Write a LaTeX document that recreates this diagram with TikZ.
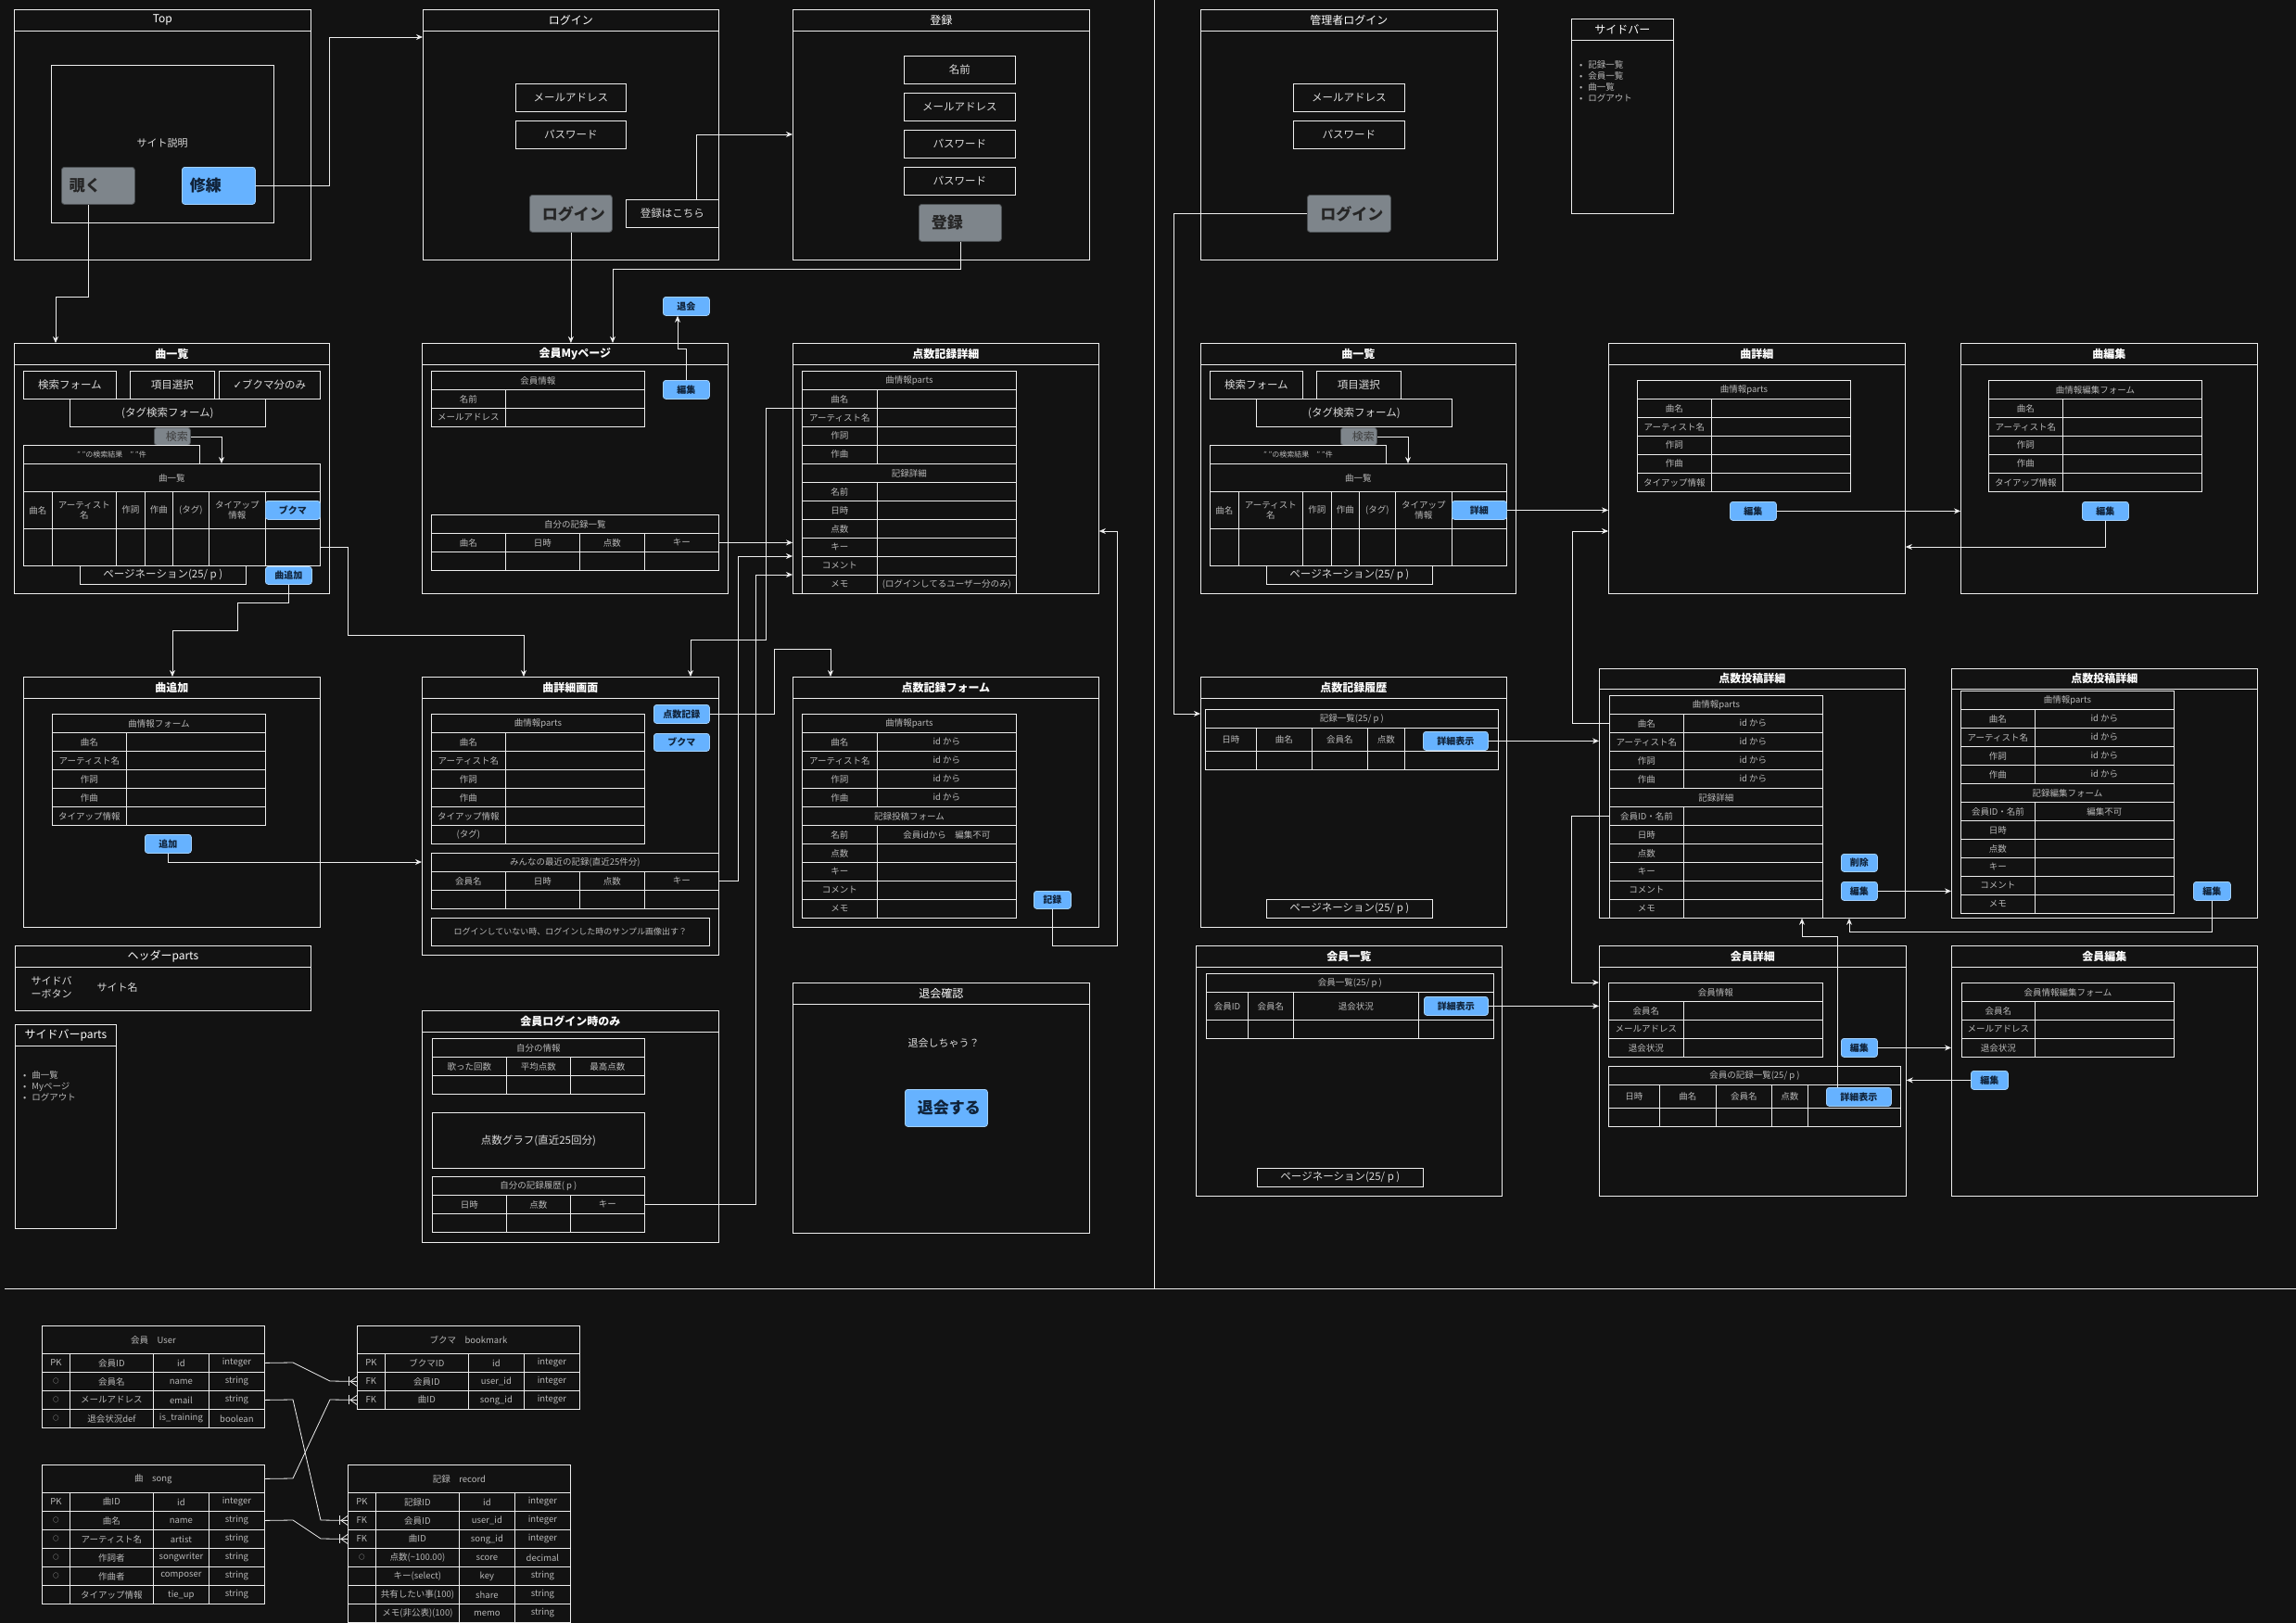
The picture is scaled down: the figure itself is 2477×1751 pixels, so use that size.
\documentclass[tikz,border=0pt]{standalone}
\usepackage{fontspec}
\setmainfont{Noto Sans CJK JP}
\newfontfamily\checkfont{DejaVu Sans}
\usetikzlibrary{arrows.meta}

\definecolor{bg}{HTML}{121212}
\definecolor{ln}{HTML}{EEEEEE}
\definecolor{tx}{HTML}{B8B8B8}
\definecolor{fx}{HTML}{DADADA}
\definecolor{btnblue}{HTML}{66B2FF}
\definecolor{btngray}{HTML}{7E858B}
\definecolor{btntext}{HTML}{10233A}

% one cell, field or button, placed by its north west corner
\newcommand\cel[7][cell]{\node[#1, minimum width=(#5)*1pt, minimum height=(#6)*1pt] (#2) at (#3,#4) {#7};}

% a page frame with its title bar
\newcommand\frm[8][ttl]{%
  \node[frame, minimum width=(#5)*1pt, minimum height=(#6)*1pt] (#2) at (#3,#4) {};
  \draw[line] ([yshift=-#7pt]#2.north west) -- ([yshift=-#7pt]#2.north east);
  \node[#1] (#2-t) at ([yshift=-0.5*#7pt]#2.north) {#8};}

% two column table, rows 20 high; kind 1 = title row
\newcommand\formtable[6]{%
  \foreach [count=\i from 0] \kind/\lab/\val in {#6}{%
    \ifnum\kind=1\relax
      \cel{#1-\i}{#2}{#3+20*\i}{#4+#5}{20}{\lab}
    \else
      \cel{#1-\i-a}{#2}{#3+20*\i}{#4}{20}{\lab}
      \cel{#1-\i-b}{#2+#4}{#3+20*\i}{#5}{20}{\val}
    \fi}}

% title row, header row and one empty row
\newcommand\gridtable[9]{%
  \cel{#1-t}{#2}{#3}{#4}{#5}{#8}
  \foreach [count=\i] \cx/\cw/\lab in {#9}{%
    \cel{#1-h\i}{\cx}{#3+#5}{\cw}{#6}{\lab}
    \cel{#1-d\i}{\cx}{#3+#5+#6}{\cw}{#7}{}}}

% entity of the ER diagram
\newcommand\ertable[5]{%
  \cel{#1-t}{#2}{#3}{240}{30}{#4}
  \foreach [count=\i] \pa/\pb/\pc/\pd in {#5}{%
    \cel{#1-\i-a}{#2}{#3+10+20*\i}{30}{20}{\pa}
    \cel{#1-\i-b}{#2+30}{#3+10+20*\i}{90}{20}{\pb}
    \cel{#1-\i-c}{#2+120}{#3+10+20*\i}{60}{20}{\pc}
    \cel{#1-\i-d}{#2+180}{#3+10+20*\i}{60}{20}{\pd}}}
\newcommand\ercirc{{\fontsize{6.5}{6.5}\selectfont\color{fx}○}}

% song list page (search, result table, pagination)
\newcommand\songlist[2]{%
  \cel[field]{#1-form}{25}{400}{100}{30}{検索フォーム}
  \cel[field]{#1-item}{140}{400}{91}{30}{項目選択}
  \cel[field]{#1-tag}{75}{430}{211}{30}{(タグ検索フォーム)}
  \cel[searchbtn]{#1-go}{166}{461}{39}{19}{\hspace{10pt}検索}
  \cel[cell, font=\fontsize{8}{9}\selectfont]{#1-res}{25}{480}{190}{20}{" "の検索結果　" "件}
  \gridtable{#1}{25}{500}{320}{30}{40}{40}{曲一覧}{25/31/曲名, 56/69/{アーティスト\\名}, 125/31/作詞, 156/30/作曲, 186/39/(タグ), 225/61/{タイアップ\\情報}, 286/59/}
  \cel[btn]{#1-btn}{286}{540}{59}{20}{#2}
  \cel[field]{#1-page}{86}{610}{179}{20}{ページネーション(25/ p )}
  \draw[arrow] (#1-go.east) -| (#1-t.north -| 239,0);}

\tikzset{crow/.pic={\draw[line] (-9,-5) -- (-9,5); \draw[line] (0,-5) -- (-7,0) -- (0,5);}}

\begin{document}
\begin{tikzpicture}[
x=1pt, y=-1pt,
line/.style={draw=ln, line width=0.8pt},
arrow/.style={->, draw=ln, line width=0.8pt},
>={Stealth[length=7pt, width=6pt]},
frame/.style={draw=ln, line width=0.8pt, anchor=north west, inner sep=0},
ttl/.style={text=white, font=\fontsize{12}{14}\selectfont\bfseries},
ttlr/.style={text=white, font=\fontsize{12}{14}\selectfont},
cell/.style={draw=ln, line width=0.8pt, anchor=north west, inner sep=0, align=center, text=tx, font=\fontsize{9.5}{11}\selectfont},
field/.style={cell, text=fx, font=\fontsize{11.5}{13}\selectfont},
btn/.style={anchor=north west, inner sep=0, rounded corners=3pt, fill=btnblue, draw=btnblue!60!white, line width=0.8pt, text=btntext, font=\fontsize{10}{11}\selectfont\bfseries},
bigbtn/.style={btn, inner xsep=8pt, text width=62pt, align=left, font=\fontsize{17}{19}\selectfont\bfseries},
graybig/.style={bigbtn, fill=btngray, draw=btngray!60!black, text=black!85},
searchbtn/.style={btn, fill=btngray, draw=btngray!60!black, text=black!75, font=\fontsize{12}{13}\selectfont},
plain/.style={text=fx, font=\fontsize{11}{14}\selectfont},
listtext/.style={anchor=north west, align=left, inner sep=0, text=tx, font=\fontsize{9.5}{12}\selectfont}
]
\path[use as bounding box, fill=bg] (0,0) rectangle (2477,1751);
\draw[line] (1245,0) -- (1245,1390);
\draw[line] (5,1390) -- (2477,1390);

% ---- member side: top row
\frm[ttlr]{top}{15}{10}{320}{270}{23}{Top}
\cel[frame]{top-in}{55}{70}{240}{170}{}
\node[plain] (top-desc) at (175,154) {サイト説明};
\cel[graybig]{nozoku}{66}{180}{79}{40}{覗く}
\cel[bigbtn]{shuren}{196}{180}{79}{40}{修練}

\frm[ttlr]{login}{456}{10}{319}{270}{23}{ログイン}
\cel[field]{lg-mail}{556}{90}{119}{30}{メールアドレス}
\cel[field]{lg-pass}{556}{130}{119}{30}{パスワード}
\cel[graybig]{loginbtn}{571}{210}{89}{40}{ログイン}
\cel[field]{here}{675}{215}{100}{30}{登録はこちら}

\frm[ttlr]{reg}{855}{10}{320}{270}{23}{登録}
\cel[field]{rg-name}{975}{60}{120}{30}{名前}
\cel[field]{rg-mail}{975}{100}{120}{30}{メールアドレス}
\cel[field]{rg-pass1}{975}{140}{120}{30}{パスワード}
\cel[field]{rg-pass2}{975}{180}{120}{30}{パスワード}
\cel[graybig]{regbtn}{991}{220}{89}{40}{登録}

\cel[btn]{quitbtn}{715}{320}{50}{20}{退会}

% ---- member side: song list, my page, record detail
\frm{slist}{15}{370}{340}{270}{23}{曲一覧}
\songlist{sl}{ブクマ}
\cel[field]{sl-bm}{236}{400}{109}{30}{{\checkfont ✓}ブクマ分のみ}
\cel[btn]{addbtn}{286}{611}{50}{19}{曲追加}

\frm{mypage}{455}{370}{330}{270}{23}{会員Myページ}
\formtable{mpi}{465}{400}{80}{150}{1/会員情報/, 0/名前/, 0/メールアドレス/}
\cel[btn]{medit}{715}{410}{50}{20}{編集}
\gridtable{mr}{465}{555}{310}{20}{20}{20}{自分の記録一覧}{465/80/曲名, 545/80/日時, 625/70/点数, 695/80/キー}

\frm{recdet}{855}{370}{330}{270}{23}{点数記録詳細}
\formtable{rd}{865}{400}{81}{150}{1/曲情報parts/, 0/曲名/, 0/アーティスト名/, 0/作詞/, 0/作曲/, 1/記録詳細/, 0/名前/, 0/日時/, 0/点数/, 0/キー/, 0/コメント/, 0/メモ/(ログインしてるユーザー分のみ)}

% ---- member side: add, song detail, record form
\frm{add}{25}{730}{320}{270}{23}{曲追加}
\formtable{af}{56}{770}{80}{150}{1/曲情報フォーム/, 0/曲名/, 0/アーティスト名/, 0/作詞/, 0/作曲/, 0/タイアップ情報/}
\cel[btn]{addok}{156}{900}{50}{20}{追加}

\frm{sdet}{455}{730}{320}{300}{23}{曲詳細画面}
\formtable{sp}{465}{770}{80}{150}{1/曲情報parts/, 0/曲名/, 0/アーティスト名/, 0/作詞/, 0/作曲/, 0/タイアップ情報/, 0/(タグ)/}
\cel[btn]{recbtn}{705}{760}{60}{20}{点数記録}
\cel[btn]{bmbtn}{705}{791}{60}{19}{ブクマ}
\gridtable{sm}{465}{920}{310}{20}{20}{20}{みんなの最近の記録(直近25件分)}{465/80/会員名, 545/80/日時, 625/70/点数, 695/80/キー}
\cel[cell, font=\fontsize{9}{10}\selectfont]{sample}{465}{990}{300}{30}{ログインしていない時、ログインした時のサンプル画像出す？}

\frm{recform}{855}{730}{330}{270}{23}{点数記録フォーム}
\formtable{rf}{865}{770}{81}{150}{1/曲情報parts/, 0/曲名/id から, 0/アーティスト名/id から, 0/作詞/id から, 0/作曲/id から, 1/記録投稿フォーム/, 0/名前/会員idから　編集不可, 0/点数/, 0/キー/, 0/コメント/, 0/メモ/}
\cel[btn]{kiroku}{1115}{961}{40}{19}{記録}

% ---- member side: parts, login only, quit
\frm[ttlr]{header}{16}{1020}{319}{70}{23}{ヘッダーparts}
\node[plain, anchor=west, align=left] (hp-btn) at (30,1065) {サイドバ\\ーボタン};
\node[plain, anchor=west] (hp-name) at (101,1065) {サイト名};

\frm[ttlr]{side}{16}{1105}{109}{220}{23}{サイドバーparts}
\node[listtext] (sd-list) at (25,1155) {•\hspace{6pt}曲一覧\\•\hspace{6pt}Myページ\\•\hspace{6pt}ログアウト};

\frm{memonly}{455}{1090}{320}{250}{23}{会員ログイン時のみ}
\gridtable{mself}{466}{1120}{229}{20}{20}{20}{自分の情報}{466/80/歌った回数, 546/69/平均点数, 615/80/最高点数}
\cel[field]{graph}{466}{1200}{229}{60}{点数グラフ(直近25回分)}
\gridtable{mh}{466}{1269}{229}{20}{20}{20}{自分の記録履歴( p )}{466/80/日時, 546/69/点数, 615/80/キー}

\frm[ttlr]{quit}{855}{1060}{320}{270}{23}{退会確認}
\node[plain] (quit-ask) at (1018,1125) {退会しちゃう？};
\cel[bigbtn]{quitok}{976}{1175}{89}{40}{退会する}

% ---- admin side
\frm[ttlr]{adlogin}{1295}{10}{320}{270}{23}{管理者ログイン}
\cel[field]{al-mail}{1395}{90}{120}{30}{メールアドレス}
\cel[field]{al-pass}{1395}{130}{120}{30}{パスワード}
\cel[graybig]{albtn}{1410}{210}{90}{40}{ログイン}

\frm[ttlr]{adside}{1695}{20}{110}{210}{23}{サイドバー}
\node[listtext] (as-list) at (1704,65) {•\hspace{6pt}記録一覧\\•\hspace{6pt}会員一覧\\•\hspace{6pt}曲一覧\\•\hspace{6pt}ログアウト};

\frm{aslist}{1295}{370}{340}{270}{23}{曲一覧}
\begin{scope}[shift={(1280,0)}]
\songlist{as}{詳細}
\end{scope}

\frm{asdet}{1735}{370}{320}{270}{23}{曲詳細}
\formtable{ad}{1766}{410}{80}{150}{1/曲情報parts/, 0/曲名/, 0/アーティスト名/, 0/作詞/, 0/作曲/, 0/タイアップ情報/}
\cel[btn]{adedit}{1866}{541}{50}{20}{編集}

\frm{asedit}{2115}{370}{320}{270}{23}{曲編集}
\formtable{ae}{2145}{410}{80}{150}{1/曲情報編集フォーム/, 0/曲名/, 0/アーティスト名/, 0/作詞/, 0/作曲/, 0/タイアップ情報/}
\cel[btn]{aeedit}{2246}{541}{50}{20}{編集}

\frm{ahist}{1295}{730}{330}{270}{23}{点数記録履歴}
\gridtable{ah}{1300}{765}{316}{20}{25}{20}{記録一覧(25/ p )}{1300/55/日時, 1355/60/曲名, 1415/60/会員名, 1475/40/点数, 1515/101/}
\cel[btn]{ah-btn}{1535}{789}{70}{20}{詳細表示}
\cel[field]{ah-page}{1366}{970}{179}{20}{ページネーション(25/ p )}

\frm{apost}{1725}{721}{330}{269}{22}{点数投稿詳細}
\formtable{ap}{1736}{750}{80}{150}{1/曲情報parts/, 0/曲名/id から, 0/アーティスト名/id から, 0/作詞/id から, 0/作曲/id から, 1/記録詳細/, 0/会員ID・名前/, 0/日時/, 0/点数/, 0/キー/, 0/コメント/, 0/メモ/}
\cel[btn]{apdel}{1986}{921}{39}{19}{削除}
\cel[btn]{apedit}{1986}{951}{39}{20}{編集}

\frm{apost2}{2105}{721}{330}{269}{22}{点数投稿詳細}
\formtable{aq}{2115}{745}{80}{150}{1/曲情報parts/, 0/曲名/id から, 0/アーティスト名/id から, 0/作詞/id から, 0/作曲/id から, 1/記録編集フォーム/, 0/会員ID・名前/編集不可, 0/日時/, 0/点数/, 0/キー/, 0/コメント/, 0/メモ/}
\cel[btn]{ap2edit}{2366}{951}{40}{20}{編集}

\frm{amlist}{1290}{1020}{330}{270}{23}{会員一覧}
\gridtable{aml}{1301}{1050}{310}{20}{30}{20}{会員一覧(25/ p )}{1301/45/会員ID, 1346/49/会員名, 1395/135/退会状況, 1530/81/}
\cel[btn]{aml-btn}{1536}{1075}{69}{20}{詳細表示}
\cel[field]{aml-page}{1356}{1260}{179}{20}{ページネーション(25/ p )}

\frm{amdet}{1725}{1020}{331}{270}{23}{会員詳細}
\formtable{amd}{1735}{1060}{81}{150}{1/会員情報/, 0/会員名/, 0/メールアドレス/, 0/退会状況/}
\cel[btn]{amd-edit}{1986}{1120}{39}{20}{編集}
\gridtable{amr}{1735}{1150}{315}{20}{25}{20}{会員の記録一覧(25/ p )}{1735/55/日時, 1790/61/曲名, 1851/60/会員名, 1911/39/点数, 1950/100/}
\cel[btn]{amd-btn}{1970}{1173}{70}{20}{詳細表示}

\frm{amedit}{2105}{1020}{330}{270}{23}{会員編集}
\formtable{ame}{2116}{1060}{79}{150}{1/会員情報編集フォーム/, 0/会員名/, 0/メールアドレス/, 0/退会状況/}
\cel[btn]{ame-edit}{2126}{1155}{40}{20}{編集}

% ---- connectors, member side
\draw[arrow] (shuren.east) -| (355,40) -- (login.west |- 0,40);
\draw[arrow] ([xshift=-10.5pt]nozoku.south) |- (60,320) -- (slist.north -| 60,0);
\draw[arrow] ([xshift=26pt]here.north) |- (reg.west |- 0,145);
\draw[arrow] (loginbtn.south) -- (mypage.north -| loginbtn.south);
\draw[arrow] (regbtn.south) |- (661,290) -- (mypage.north -| 661,0);
\draw[arrow] (medit.north) |- (731,376) -- (quitbtn.south -| 731,0);
\draw[arrow] (sl-d7.east) -| (375,685) -| (sdet.north -| 565,0);
\draw[arrow] (addbtn.south) |- (256,650) |- (186,680) -- (add.north -| 186,0);
\draw[arrow] (addok.south) |- (sdet.west |- 0,930);
\draw[arrow] (mr-h4.east) -- (recdet.west |- mr-h4.east);
\draw[arrow] (rd-1-a.south west) -| (826,690) -| (sdet.north -| 745,0);
\draw[arrow] (sm-h4.east) -| (796,600) -- (recdet.west |- 0,600);
\draw[arrow] (mh-h3.east) -| (815,620) -- (recdet.west |- 0,620);
\draw[arrow] (recbtn.east) -| (835,700) -| (recform.north -| 896,0);
\draw[arrow] (kiroku.south) |- (1205,1020) |- (recdet.east |- 0,573);

% ---- connectors, admin side
\draw[arrow] (albtn.west) -| (1266,770) -- (ahist.west |- 0,770);
\draw[arrow] (as-btn.east) -- (asdet.west |- as-btn.east);
\draw[arrow] (adedit.east) -- (asedit.west |- adedit.east);
\draw[arrow] (aeedit.south) |- (asdet.east |- 0,590);
\draw[arrow, draw=ln!65] (ap-1-a.west) -| (1696,573) -- (asdet.west |- 0,573);
\draw[arrow] (ah-btn.east) -- (apost.west |- ah-btn.east);
\draw[arrow] (ap-6-a.west) -| (1695,1060) -- (amdet.west |- 0,1060);
\draw[arrow] (apedit.east) -- (apost2.west |- apedit.east);
\draw[arrow] (ap2edit.south) |- (1995,1005) -- (apost.south -| 1995,0);
\draw[arrow] (aml-btn.east) -- (amdet.west |- aml-btn.east);
\draw[arrow] (amd-edit.east) -- (amedit.west |- amd-edit.east);
\draw[arrow] (ame-edit.west) -- (amdet.east |- ame-edit.west);
\draw[arrow] ([xshift=-23pt]amd-btn.north) |- (1944,1010) -- (apost.south -| 1944,0);

% ---- ER diagram
\ertable{us}{45}{1430}{会員　User}{PK/会員ID/id/integer, \ercirc/会員名/name/string, \ercirc/メールアドレス/email/string, \ercirc/退会状況def/is\_training/boolean}
\ertable{bk}{385}{1430}{ブクマ　bookmark}{PK/ブクマID/id/integer, FK/会員ID/user\_id/integer, FK/曲ID/song\_id/integer}
\ertable{sg}{45}{1580}{曲　song}{PK/曲ID/id/integer, \ercirc/曲名/name/string, \ercirc/アーティスト名/artist/string, \ercirc/作詞者/songwriter/string, \ercirc/作曲者/composer/string, {}/タイアップ情報/tie\_up/string}
\ertable{rc}{375}{1580}{記録　record}{PK/記録ID/id/integer, FK/会員ID/user\_id/integer, FK/曲ID/song\_id/integer, \ercirc/点数(\textasciitilde100.00)/score/decimal, {}/キー(select)/key/string, {}/共有したい事(100)/share/string, {}/メモ(非公表)(100)/memo/string}

\draw[line] (us-1-d.east) -- (316,1470) -- (356,1490) -- (bk-2-a.west);
\draw[line] (us-3-d.east) -- (316,1510) -- (346,1640) -- (rc-2-a.west);
\draw[line] (sg-t.east) -- (316,1595) -- (356,1510) -- (bk-3-a.west);
\draw[line] (sg-2-d.east) -- (316,1640) -- (346,1660) -- (rc-3-a.west);
\pic at (bk-2-a.west) {crow};
\pic at (bk-3-a.west) {crow};
\pic at (rc-2-a.west) {crow};
\pic at (rc-3-a.west) {crow};

\end{tikzpicture}
\end{document}
